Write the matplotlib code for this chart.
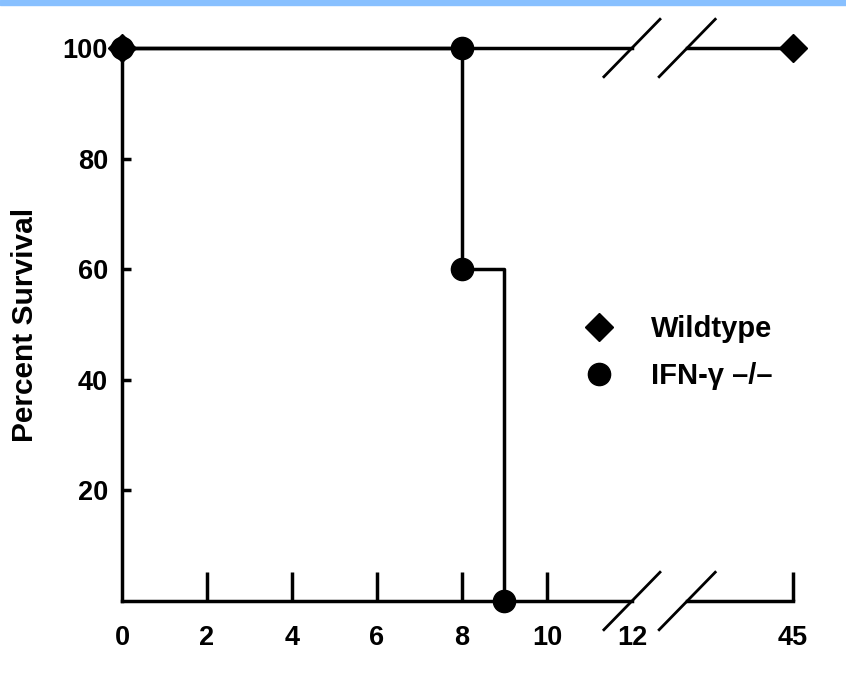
import matplotlib
matplotlib.use("Agg")
import matplotlib.pyplot as plt
from matplotlib.patches import Rectangle

plt.rcParams['font.family'] = ['Liberation Sans', 'DejaVu Sans']
plt.rcParams['font.weight'] = 'bold'

# data (days after infection, percent survival)
wt_days = [0, 45]
wt_surv = [100, 100]
ifn_days = [0, 8, 8, 9]
ifn_surv = [100, 100, 60, 0]

x_ticks = [0, 2, 4, 6, 8, 10, 12, 45]
y_ticks = [20, 40, 60, 80, 100]

# broken x axis: 0-12 linear, everything past the break squeezed to the end
BREAK_AT = 12
BREAK_END = 13.3
X_END = 15.79


def xpos(d):
    return d if d <= BREAK_AT else X_END


LW = 2.5

fig = plt.figure(figsize=(8.46, 6.79), dpi=100)
fig.patches.append(Rectangle((0, 1 - 5 / 679), 1, 5 / 679, transform=fig.transFigure,
                             color='#88c0ff', zorder=0))
ax = fig.add_axes([122 / 846, 78 / 679, (793 - 122) / 846, (601 - 48) / 679])

# wildtype line, broken at the axis break
wx = [xpos(d) for d in wt_days]
ax.plot([wx[0], BREAK_AT], [wt_surv[0]] * 2, color='black', lw=LW, clip_on=False)
ax.plot([BREAK_END, wx[1]], [wt_surv[1]] * 2, color='black', lw=LW, clip_on=False)

# IFN-gamma -/- step curve
ix = [xpos(d) for d in ifn_days]
ax.plot(ix, ifn_surv, drawstyle='steps-post', color='black', lw=LW, clip_on=False)
ax.plot(ix, ifn_surv, 'o', color='black', ms=16, clip_on=False, zorder=4,
        label='IFN-\u03b3 \u2013/\u2013')
ax.plot(wx, wt_surv, 'D', color='black', ms=14.5, clip_on=False, zorder=5,
        label='Wildtype')

# bottom axis drawn by hand so it can be broken
ax.spines[['top', 'right', 'bottom']].set_visible(False)
ax.spines['left'].set_linewidth(LW)
ax.plot([0, BREAK_AT], [0, 0], color='black', lw=LW, clip_on=False)
ax.plot([BREAK_END, X_END], [0, 0], color='black', lw=LW, clip_on=False)

# break slashes on the top curve and the bottom axis
for y0 in (0, 100):
    for xb in (BREAK_AT, BREAK_END):
        ax.plot([xb - 0.66, xb + 0.66], [y0 - 5.2, y0 + 5.2], color='black',
                lw=2.0, clip_on=False)

ax.set_xlim(0, X_END)
ax.set_ylim(0, 100)
ax.set_xticks([xpos(d) for d in x_ticks])
ax.set_xticklabels([str(d) for d in x_ticks])
ax.set_yticks(y_ticks)
ax.tick_params(axis='x', direction='in', length=21, width=LW, pad=17, labelsize=19.5)
ax.tick_params(axis='y', direction='in', length=6.5, width=LW, pad=10, labelsize=19.5)
for i, t in enumerate(ax.xaxis.get_major_ticks()):
    if x_ticks[i] in (0, 12):
        t.tick1line.set_visible(False)

ax.set_ylabel('Percent Survival', fontsize=21.5, fontweight='bold')
ax.yaxis.set_label_coords(-0.124, 0.5)

h, l = ax.get_legend_handles_labels()
ax.legend(h[::-1], l[::-1], loc='center left', bbox_to_anchor=(584 / 846, 1 - 352.5 / 679),
          bbox_transform=fig.transFigure, frameon=False, fontsize=21, borderpad=0,
          borderaxespad=0, handlelength=1.0, handletextpad=1.3, labelspacing=0.65)

fig.savefig('out.png', dpi=100)
